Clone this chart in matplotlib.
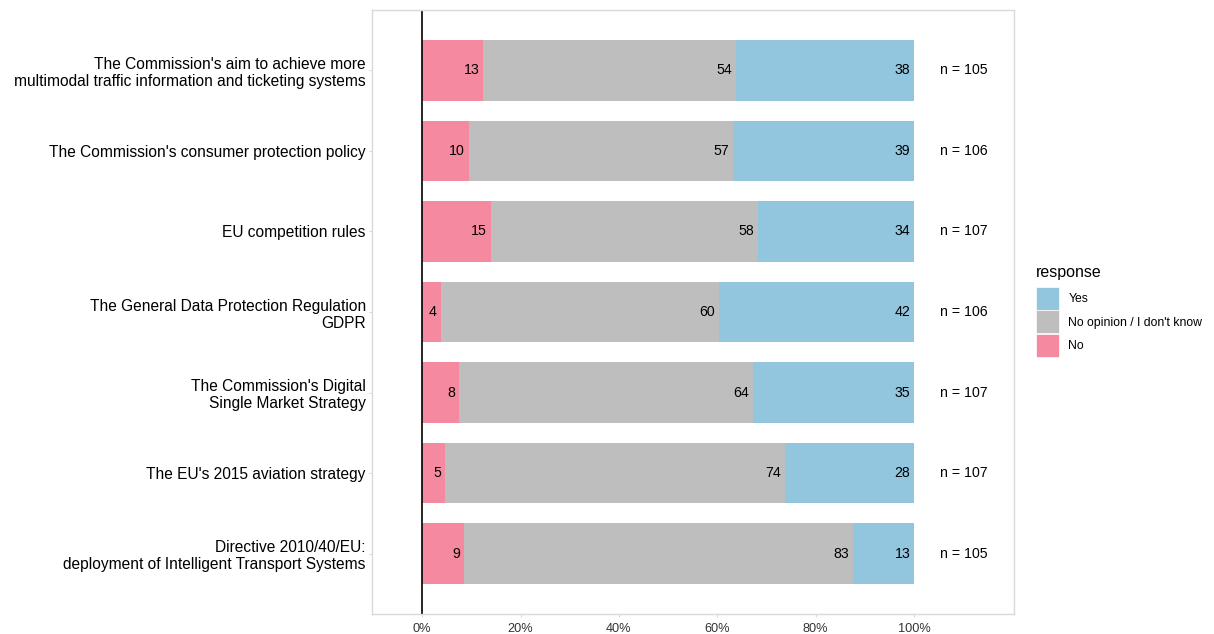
import matplotlib
matplotlib.use("Agg")
import matplotlib.pyplot as plt
from matplotlib.patches import Patch
import numpy as np

plt.rcParams['font.family'] = ['Liberation Sans', 'DejaVu Sans']

categories = [
    "The Commission's aim to achieve more\nmultimodal traffic information and ticketing systems",
    "The Commission's consumer protection policy",
    "EU competition rules",
    "The General Data Protection Regulation\nGDPR",
    "The Commission's Digital\nSingle Market Strategy",
    "The EU's 2015 aviation strategy",
    "Directive 2010/40/EU:\ndeployment of Intelligent Transport Systems",
]
no_counts = [13, 10, 15, 4, 8, 5, 9]
noop_counts = [54, 57, 58, 60, 64, 74, 83]
yes_counts = [38, 39, 34, 42, 35, 28, 13]
n_totals = [105, 106, 107, 106, 107, 107, 105]
xticks = [0, 20, 40, 60, 80, 100]
xtick_labels = ["0%", "20%", "40%", "60%", "80%", "100%"]

c_no = "#F4899F"
c_noop = "#BEBEBE"
c_yes = "#92C5DE"

fig = plt.figure(figsize=(12.14, 6.34), dpi=100)
ax = fig.add_axes([372/1214, 1-614/634, (1014-372)/1214, 604/634])

n = np.array(n_totals, dtype=float)
p_no = np.array(no_counts) / n * 100
p_noop = np.array(noop_counts) / n * 100
p_yes = np.array(yes_counts) / n * 100
y = np.arange(len(categories))[::-1]

h = 0.75
ax.barh(y, p_no, height=h, color=c_no, linewidth=0)
ax.barh(y, p_noop, left=p_no, height=h, color=c_noop, linewidth=0)
ax.barh(y, p_yes, left=p_no + p_noop, height=h, color=c_yes, linewidth=0)

off = 0.8
fs = 10.2
for i in range(len(categories)):
    e1 = p_no[i]
    e2 = p_no[i] + p_noop[i]
    e3 = e2 + p_yes[i]
    ax.text(e1 - off, y[i], str(no_counts[i]), ha='right', va='center', fontsize=fs, color='black')
    ax.text(e2 - off, y[i], str(noop_counts[i]), ha='right', va='center', fontsize=fs, color='black')
    ax.text(e3 - off, y[i], str(yes_counts[i]), ha='right', va='center', fontsize=fs, color='black')
    ax.text(110, y[i], f"n = {n_totals[i]}", ha='center', va='center', fontsize=fs, color='black')

ax.axvline(0, color='black', linewidth=1.2)

ax.set_xlim(-10.2, 120.3)
ax.set_ylim(-0.75, 6.75)
ax.set_xticks(xticks)
ax.set_xticklabels(xtick_labels)
ax.set_yticks(y)
ax.set_yticklabels(categories, fontsize=11.2)
ax.tick_params(axis='x', length=2.5, color='#D9D9D9', labelsize=9.2, labelcolor='#333333', pad=4)
ax.tick_params(axis='y', length=2.5, color='#D9D9D9', pad=2, labelcolor='black')
for s in ax.spines.values():
    s.set_color('#D9D9D9')
    s.set_linewidth(1)

handles = [Patch(facecolor=c_yes, edgecolor='white', linewidth=0.5, label='Yes'),
           Patch(facecolor=c_noop, edgecolor='white', linewidth=0.5, label="No opinion / I don't know"),
           Patch(facecolor=c_no, edgecolor='white', linewidth=0.5, label='No')]
leg = fig.legend(handles=handles, title='response', loc='upper left',
                 bbox_to_anchor=(1036/1214, 1-265/634), frameon=False,
                 fontsize=8.8, title_fontsize=11.5, handlelength=1.9, handleheight=2.5,
                 handletextpad=0.75, labelspacing=0.05, borderaxespad=0, borderpad=0)
leg._legend_box.align = "left"
leg._legend_box.sep = 5

fig.savefig("out.png", dpi=100)
